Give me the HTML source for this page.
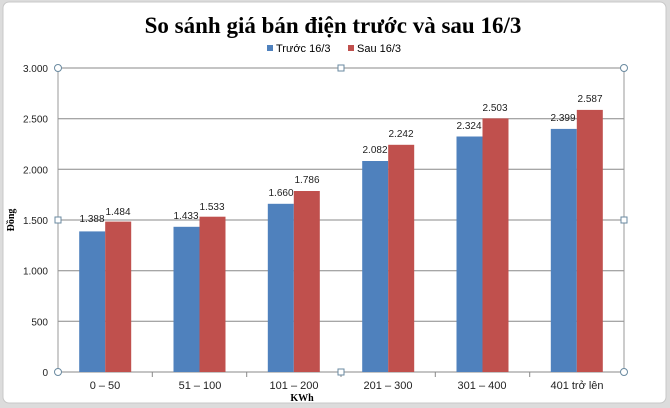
<!DOCTYPE html><html><head><meta charset="utf-8"><style>body{margin:0;background:#e8e8e8}svg{display:block}</style></head><body>
<svg width="670" height="408" xmlns="http://www.w3.org/2000/svg" font-family="Liberation Sans, sans-serif">
<rect x="0" y="0" width="670" height="408" fill="#dcdcdc"/>
<rect x="3" y="2" width="663" height="401" rx="6" fill="#fff" stroke="#c8c8c8"/>
<text x="333" y="33" text-anchor="middle" font-family="Liberation Serif, serif" font-weight="bold" font-size="23">So sánh giá bán điện trước và sau 16/3</text>
<rect x="267" y="45" width="6" height="6" fill="#4f81bd"/><text x="276" y="52" font-size="11">Trước 16/3</text>
<rect x="348" y="45" width="6" height="6" fill="#c0504d"/><text x="357" y="52" font-size="11">Sau 16/3</text>
<g stroke="#888" stroke-width="1">
<line x1="58" x2="624" y1="68" y2="68"/><line x1="58" x2="624" y1="118.7" y2="118.7"/><line x1="58" x2="624" y1="169.3" y2="169.3"/><line x1="58" x2="624" y1="220" y2="220"/><line x1="58" x2="624" y1="270.7" y2="270.7"/><line x1="58" x2="624" y1="321.3" y2="321.3"/><line x1="58" x2="624" y1="372" y2="372"/>
<line x1="58" x2="58" y1="68" y2="372" stroke="#999"/><line x1="624" x2="624" y1="68" y2="372" stroke="#999"/>
<line x1="152.3" x2="152.3" y1="372" y2="377"/><line x1="246.7" x2="246.7" y1="372" y2="377"/><line x1="341" x2="341" y1="372" y2="377"/><line x1="435.3" x2="435.3" y1="372" y2="377"/><line x1="529.7" x2="529.7" y1="372" y2="377"/>
</g>
<g font-size="10" text-anchor="end" fill="#222">
<text x="48" y="72">3.000</text><text x="48" y="122.7">2.500</text><text x="48" y="173.3">2.000</text><text x="48" y="224">1.500</text><text x="48" y="274.7">1.000</text><text x="48" y="325.3">500</text><text x="48" y="376">0</text></g>
<g fill="#4f81bd">
<rect x="79.2" y="231.4" width="26" height="140.6"/><rect x="173.5" y="226.8" width="26" height="145.2"/><rect x="267.8" y="203.8" width="26" height="168.2"/><rect x="362.2" y="161" width="26" height="211"/><rect x="456.5" y="136.5" width="26" height="235.5"/><rect x="550.8" y="128.9" width="26" height="243.1"/></g>
<g fill="#c0504d">
<rect x="105.2" y="221.6" width="26" height="150.4"/><rect x="199.5" y="216.7" width="26" height="155.3"/><rect x="293.8" y="191" width="26" height="181"/><rect x="388.2" y="144.8" width="26" height="227.2"/><rect x="482.5" y="118.4" width="26" height="253.6"/><rect x="576.8" y="109.9" width="26" height="262.1"/></g>
<g font-size="10" text-anchor="middle" fill="#222">
<text x="92" y="222">1.388</text><text x="118" y="215">1.484</text>
<text x="186" y="219">1.433</text><text x="212" y="210">1.533</text>
<text x="281" y="196">1.660</text><text x="307" y="183">1.786</text>
<text x="375" y="153">2.082</text><text x="401" y="137">2.242</text>
<text x="469" y="129">2.324</text><text x="495" y="111">2.503</text>
<text x="563" y="121">2.399</text><text x="590" y="102">2.587</text></g>
<g font-size="11" text-anchor="middle" fill="#222">
<text x="105" y="389">0 – 50</text><text x="200" y="389">51 – 100</text><text x="294" y="389">101 – 200</text><text x="388" y="389">201 – 300</text><text x="482" y="389">301 – 400</text><text x="577" y="389">401 trở lên</text></g>
<text x="302" y="401" text-anchor="middle" font-family="Liberation Serif, serif" font-weight="bold" font-size="10">KWh</text>
<text transform="translate(14,220) rotate(-90)" text-anchor="middle" font-family="Liberation Serif, serif" font-weight="bold" font-size="10">Đồng</text>
<g fill="#fff" stroke="#6a8aa0"><circle cx="58" cy="68" r="3.5"/><circle cx="624" cy="68" r="3.5"/><circle cx="58" cy="372" r="3.5"/><circle cx="624" cy="372" r="3.5"/>
<rect x="338" y="65" width="6" height="6"/><rect x="338" y="369" width="6" height="6"/><rect x="55" y="217" width="6" height="6"/><rect x="621" y="217" width="6" height="6"/></g>
</svg></body></html>
